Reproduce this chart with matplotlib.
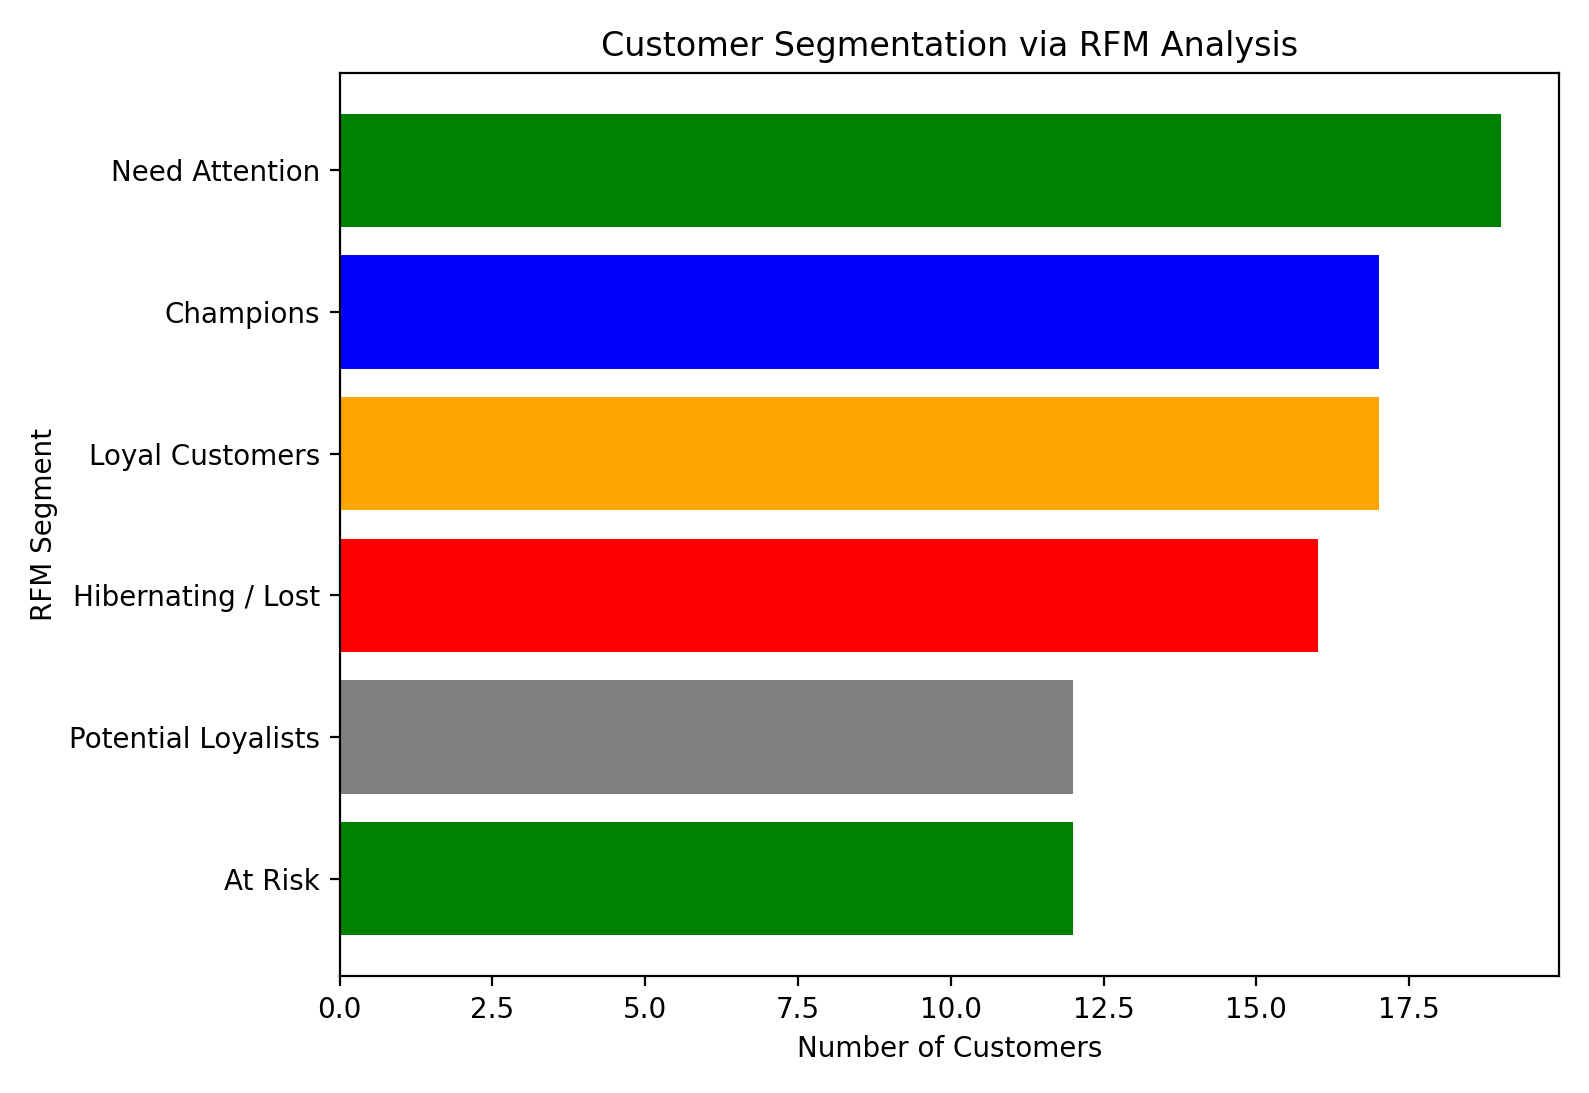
import matplotlib.pyplot as plt

segments = ["At Risk", "Potential Loyalists", "Hibernating / Lost",
            "Loyal Customers", "Champions", "Need Attention"]
counts = [12, 12, 16, 17, 17, 19]
colors = ["green", "gray", "red", "orange", "blue", "green"]

fig, ax = plt.subplots(figsize=(7.945, 5.465), dpi=200)
ax.barh(segments, counts, color=colors)
ax.set_xlabel("Number of Customers")
ax.set_ylabel("RFM Segment")
ax.set_title("Customer Segmentation via RFM Analysis")
plt.tight_layout()
plt.savefig("out.png")
